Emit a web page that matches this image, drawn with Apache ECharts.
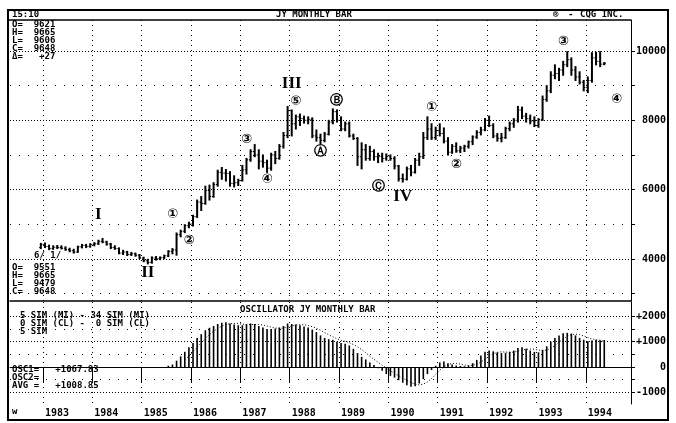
<!DOCTYPE html>
<html><head><meta charset="utf-8">
<script src="https://cdn.jsdelivr.net/npm/echarts@6/dist/echarts.min.js"></script>
<style>html,body{margin:0;padding:0;background:#fff}#c{width:676px;height:423px}</style>
</head><body><div id="c"></div>
<script>
// ---------- categories: monthly, May 1982 .. Nov 1994 ----------
const firstMonth = [1982, 5];
const monthCount = 151;
const months = [];
for (let i = 0; i < monthCount; i++) {
  const t = firstMonth[0] * 12 + (firstMonth[1] - 1) + i;
  months.push(Math.floor(t / 12) + '-' + String(t % 12 + 1).padStart(2, '0'));
}
// ---------- JY monthly bars, Dec 1982 .. May 1994 ----------
const barStart = '1982-12';
const open = [4330,4420,4360,4300,4340,4330,4310,4270,4240,4200,4350,4390,4360,4420,4440,4510,4490,4430,4330,4300,4170,4200,4130,4150,4110,4030,3950,3900,4030,4010,4040,4090,4220,4260,4700,4800,4960,5010,5220,5640,5600,5980,5800,6150,6500,6480,6470,6180,6200,6260,6570,6860,7100,7000,6820,6780,6620,7000,6900,7250,7560,8280,7900,8100,8050,8000,8030,7550,7500,7420,7600,7950,8250,8000,7750,7900,7550,7480,6950,7150,6900,7100,6950,6960,6900,6960,6900,6680,6320,6300,6600,6500,6850,6950,7500,7750,7500,7700,7620,7400,7080,7250,7120,7200,7250,7380,7520,7650,7720,8000,7850,7550,7480,7500,7760,7900,8000,8300,8120,8050,7980,7850,8020,8600,8850,9300,9350,9450,9600,9750,9450,9250,9100,8950,9150,9800,9700,9621];
const high = [4450,4460,4400,4380,4390,4380,4350,4310,4280,4370,4420,4420,4440,4470,4540,4590,4510,4450,4380,4320,4250,4220,4190,4170,4130,4050,3990,4060,4070,4060,4110,4240,4300,4750,4830,4990,5060,5260,5700,5800,6100,6130,6200,6560,6640,6580,6520,6400,6300,6700,6900,7150,7300,7150,7000,6850,7050,7100,7300,7650,8400,8300,8150,8180,8120,8100,8070,7720,7600,7650,8000,8330,8300,8100,7950,7950,7600,7500,7350,7300,7250,7150,7050,7050,7030,7000,6950,6700,6450,6650,6700,6900,7050,7650,8100,7900,7800,7900,7780,7500,7300,7350,7250,7280,7400,7550,7700,7800,8050,8120,7900,7620,7620,7800,7950,8050,8400,8380,8200,8150,8100,8050,8700,9000,9400,9600,9500,9700,9980,9800,9550,9400,9150,9250,9950,9960,9980,9665];
const low = [4300,4330,4270,4280,4300,4290,4250,4210,4170,4190,4320,4330,4340,4380,4420,4470,4400,4300,4280,4150,4130,4100,4100,4080,4010,3920,3860,3880,3970,3980,4010,4070,4150,4110,4640,4760,4900,4950,5200,5400,5580,5700,5780,6100,6300,6250,6100,6080,6120,6250,6450,6820,6950,6600,6650,6500,6560,6750,6880,7200,7500,7550,7750,7850,7920,7900,7500,7400,7330,7380,7580,7900,7950,7700,7700,7520,7450,6700,6600,6850,6850,6850,6780,6800,6850,6850,6600,6250,6220,6280,6400,6480,6700,6900,7450,7450,7450,7550,7350,7000,7050,7080,7070,7100,7200,7300,7480,7580,7700,7820,7500,7400,7380,7480,7700,7800,7950,8050,7950,7900,7820,7800,8000,8550,8800,9200,9150,9300,9550,9300,9150,9050,8850,8800,9100,9600,9550,9606];
const close = [4420,4360,4300,4340,4330,4310,4270,4240,4200,4350,4390,4360,4420,4440,4510,4490,4430,4330,4300,4170,4200,4130,4150,4110,4030,3950,3900,4030,4010,4040,4090,4220,4260,4700,4800,4960,5010,5220,5640,5600,5980,5800,6150,6500,6480,6470,6180,6200,6260,6570,6860,7100,7000,6820,6780,6620,7000,6900,7250,7560,8280,7900,8100,8050,8000,8030,7550,7500,7420,7600,7950,8250,8000,7750,7900,7550,7480,6950,7150,6900,7100,6950,6960,6900,6960,6900,6680,6320,6300,6600,6500,6850,6950,7500,7750,7500,7700,7620,7400,7080,7250,7120,7200,7250,7380,7520,7650,7720,8000,7850,7550,7480,7500,7760,7900,8000,8300,8120,8050,7980,7850,8020,8600,8850,9300,9350,9450,9600,9750,9450,9250,9100,8950,9150,9800,9700,9620,9648];
// ---------- oscillator (5 SMA - 34 SMA) and its 5 SMA average, Jul 1985 .. May 1994 ----------
const oscStart = '1985-07';
const osc = [50,100,250,420,600,780,950,1150,1300,1450,1550,1620,1700,1750,1770,1720,1680,1650,1650,1700,1720,1700,1620,1560,1500,1500,1520,1560,1620,1720,1700,1680,1650,1600,1560,1480,1380,1250,1150,1100,1080,1000,950,920,850,720,550,400,300,180,80,-50,-150,-280,-350,-420,-520,-620,-720,-780,-760,-650,-480,-280,-120,50,180,220,150,100,60,40,30,60,150,280,450,600,650,620,580,550,560,600,650,750,780,720,650,600,580,680,820,1000,1150,1250,1330,1350,1320,1250,1150,1080,1020,1050,1080,1060,1068];
const oscAvg = [null,null,null,null,284,430,600,780,956,1126,1280,1414,1524,1614,1678,1712,1724,1714,1694,1680,1680,1684,1678,1660,1620,1576,1540,1528,1540,1584,1624,1656,1674,1670,1638,1594,1534,1454,1364,1272,1192,1116,1056,1010,960,888,798,688,564,430,302,182,72,-44,-150,-250,-344,-438,-526,-612,-680,-706,-678,-590,-458,-296,-130,10,96,140,142,114,76,58,68,112,194,308,426,520,580,600,592,582,588,622,668,700,710,700,666,646,666,736,846,980,1110,1216,1280,1300,1280,1230,1164,1110,1076,1058,1009];
// ---------- axes ----------
const priceLabels = [4000, 6000, 8000, 10000];
const priceMinor = [3000, 5000, 7000, 9000];
const oscLabels = [2000, 1000, 0, -1000];
const oscMinor = [1500, 500, -500];
// ---------- Elliott wave annotations ----------
const romanText = ['I', 'II', 'III', 'IV'];
const romanMonth = ['1984-02', '1985-02', '1988-01', '1990-04'];
const romanLevel = [5270, 3600, 9050, 5790];
const circText = ['①','②','③','④','⑤','Ⓐ','Ⓑ','Ⓒ','①','②','③','④'];
const circMonth = ['1985-08','1985-12','1987-02','1987-07','1988-02','1988-08','1988-12','1989-10','1990-11','1991-05','1993-07','1994-08'];
const circLevel = [5270,4520,7430,6280,8530,7090,8560,6080,8380,6710,10260,8590];

const b0 = months.indexOf(barStart);
const ohlcData = open.map((o, i) => [b0 + i, o, high[i], low[i], close[i]]);
const o0 = months.indexOf(oscStart);
const oscSeries = months.map((m, i) => (i >= o0 && i - o0 < osc.length) ? osc[i - o0] : null);
const avgSeries = months.map((m, i) => (i >= o0 && i - o0 < oscAvg.length) ? oscAvg[i - o0] : null);

const MONO = 'DejaVu Sans Mono';
const FONT = 'bold 9px "' + MONO + '"';
const isJan = (idx, val) => String(val).slice(5) === '01';
const dense = {color: '#000', width: 1, type: [1, 2]};
const sparse = {color: '#000', width: 1, type: [1, 8]};
const txt = (x, y, s) => ({type: 'text', x: x, y: y, z: 20,
  style: {text: s, fill: '#000', font: FONT, textVerticalAlign: 'middle'}});

const option = {
  animation: false,
  backgroundColor: '#fff',
  grid: [
    {left: 10, right: 45, top: 20, height: 281},
    {left: 10, right: 45, top: 302, height: 102}
  ],
  xAxis: [
    {type: 'category', gridIndex: 0, data: months, boundaryGap: true,
     axisLine: {show: true, lineStyle: {color: '#000', width: 1.5}},
     axisTick: {show: false}, axisLabel: {show: false},
     splitLine: {show: true, interval: isJan, lineStyle: {color: '#000', width: 1, type: [1, 4]}}},
    {type: 'category', gridIndex: 1, data: months, boundaryGap: true,
     axisLine: {show: true, lineStyle: {color: '#000', width: 1}},
     axisTick: {show: true, interval: isJan, length: 16, inside: false, lineStyle: {color: '#000', width: 1}},
     axisLabel: {show: true, interval: isJan, formatter: v => v.slice(0, 4), align: 'left', margin: 4,
       color: '#000', fontFamily: MONO, fontWeight: 'bold', fontSize: 10},
     splitLine: {show: true, interval: isJan, lineStyle: {color: '#000', width: 1, type: [1, 4]}}}
  ],
  yAxis: [
    {type: 'value', gridIndex: 0, position: 'right', min: 2788, max: 10894,
     splitLine: {show: false},
     axisLine: {show: true, lineStyle: {color: '#000', width: 1}},
     axisTick: {show: true, customValues: priceLabels.concat(priceMinor), length: 4, inside: false, lineStyle: {color: '#000'}},
     axisLabel: {show: true, customValues: priceLabels, align: 'right', margin: 35, color: '#000',
       fontFamily: MONO, fontWeight: 'bold', fontSize: 10, formatter: v => String(v)}},
    {type: 'value', gridIndex: 1, position: 'right', min: -1462, max: 2569,
     splitLine: {show: false},
     axisLine: {show: true, lineStyle: {color: '#000', width: 1}},
     axisTick: {show: true, customValues: oscLabels.concat(oscMinor), length: 4, inside: false, lineStyle: {color: '#000'}},
     axisLabel: {show: true, customValues: oscLabels, align: 'right', margin: 35, color: '#000',
       fontFamily: MONO, fontWeight: 'bold', fontSize: 10,
       formatter: v => v > 0 ? '+' + v : String(v)}}
  ],
  series: [
    {type: 'scatter', name: 'roman', xAxisIndex: 0, yAxisIndex: 0, z: 6,
     data: romanText.map((t, i) => ({value: [romanMonth[i], romanLevel[i]], name: t})),
     symbolSize: 2, itemStyle: {color: 'rgba(0,0,0,0)', opacity: 1},
     label: {show: true, position: 'inside', formatter: p => p.name, color: '#000', opacity: 1,
       fontFamily: 'Liberation Serif', fontWeight: 'bold', fontSize: 17},
     markLine: {silent: true, symbol: ['none', 'none'], label: {show: false},
       data: priceLabels.map(v => ({yAxis: v, lineStyle: dense})).concat(priceMinor.map(v => ({yAxis: v, lineStyle: sparse})))}},
    {type: 'scatter', name: 'circled', xAxisIndex: 0, yAxisIndex: 0, z: 6,
     data: circText.map((t, i) => ({value: [circMonth[i], circLevel[i]], name: t})),
     symbolSize: 2, itemStyle: {color: 'rgba(0,0,0,0)', opacity: 1},
     label: {show: true, position: 'inside', formatter: p => p.name, color: '#000', opacity: 1,
       fontFamily: 'DejaVu Sans', fontWeight: 'bold', fontSize: 13}},
    {type: 'custom', name: 'JY', xAxisIndex: 0, yAxisIndex: 0, z: 4,
     data: ohlcData, encode: {x: 0, y: [1, 2, 3, 4]},
     renderItem: function (params, api) {
       const x = api.value(0);
       const o = api.coord([x, api.value(1)]);
       const h = api.coord([x, api.value(2)]);
       const l = api.coord([x, api.value(3)]);
       const c = api.coord([x, api.value(4)]);
       const w = api.size([1, 0])[0] * 0.4;
       return {type: 'group', children: [
         {type: 'line', shape: {x1: h[0], y1: h[1] - 0.5, x2: l[0], y2: l[1] + 0.5}, style: {stroke: '#000', lineWidth: 2}},
         {type: 'line', shape: {x1: o[0] - w, y1: o[1], x2: o[0], y2: o[1]}, style: {stroke: '#000', lineWidth: 1}},
         {type: 'line', shape: {x1: c[0], y1: c[1], x2: c[0] + w, y2: c[1]}, style: {stroke: '#000', lineWidth: 1}}
       ]};
     }},
    {type: 'bar', name: 'OSC1', xAxisIndex: 1, yAxisIndex: 1, data: oscSeries, barWidth: 1.6,
     itemStyle: {color: '#000'},
     markLine: {silent: true, symbol: ['none', 'none'], label: {show: false},
       data: oscLabels.map(v => ({yAxis: v, lineStyle: dense})).concat(oscMinor.map(v => ({yAxis: v, lineStyle: sparse})))}},
    {type: 'line', name: 'AVG', xAxisIndex: 1, yAxisIndex: 1, data: avgSeries, symbol: 'none',
     connectNulls: false, lineStyle: {color: '#000', width: 1, type: [1, 2]}, z: 3}
  ],
  graphic: [
    {type: 'rect', shape: {x: 8, y: 10, width: 660, height: 410}, style: {fill: null, stroke: '#000', lineWidth: 2}, z: 10},
    {type: 'line', shape: {x1: 8, y1: 20, x2: 631, y2: 20}, style: {stroke: '#000', lineWidth: 1.5}, z: 10},
    txt(12, 15, '15:10'),
    txt(276, 15, 'JY MONTHLY BAR'),
    txt(553, 15, '®'),
    txt(568, 15, '-'),
    txt(580, 15, 'CQG INC.'),
    txt(12, 25, 'O=  9621'),
    txt(12, 33, 'H=  9665'),
    txt(12, 41, 'L=  9606'),
    txt(12, 49, 'C=  9648'),
    txt(12, 57, 'Δ=   +27'),
    txt(34, 256, '6/ 1/'),
    txt(12, 268, 'O=  9551'),
    txt(12, 276, 'H=  9665'),
    txt(12, 284, 'L=  9479'),
    txt(12, 292, 'C=  9648'),
    txt(240, 310, 'OSCILLATOR JY MONTHLY BAR'),
    txt(20, 316, '5 SIM (MI) - 34 SIM (MI)'),
    txt(20, 324, '0 SIM (CL) -  0 SIM (CL)'),
    txt(20, 332, '5 SIM'),
    txt(12, 370, 'OSC1=   +1067.83'),
    txt(12, 378, 'OSC2='),
    txt(12, 386, 'AVG =   +1008.85'),
    txt(12, 412, 'w')
  ]
};
const chart = echarts.init(document.getElementById('c'));
chart.setOption(option);
</script>
</body></html>
